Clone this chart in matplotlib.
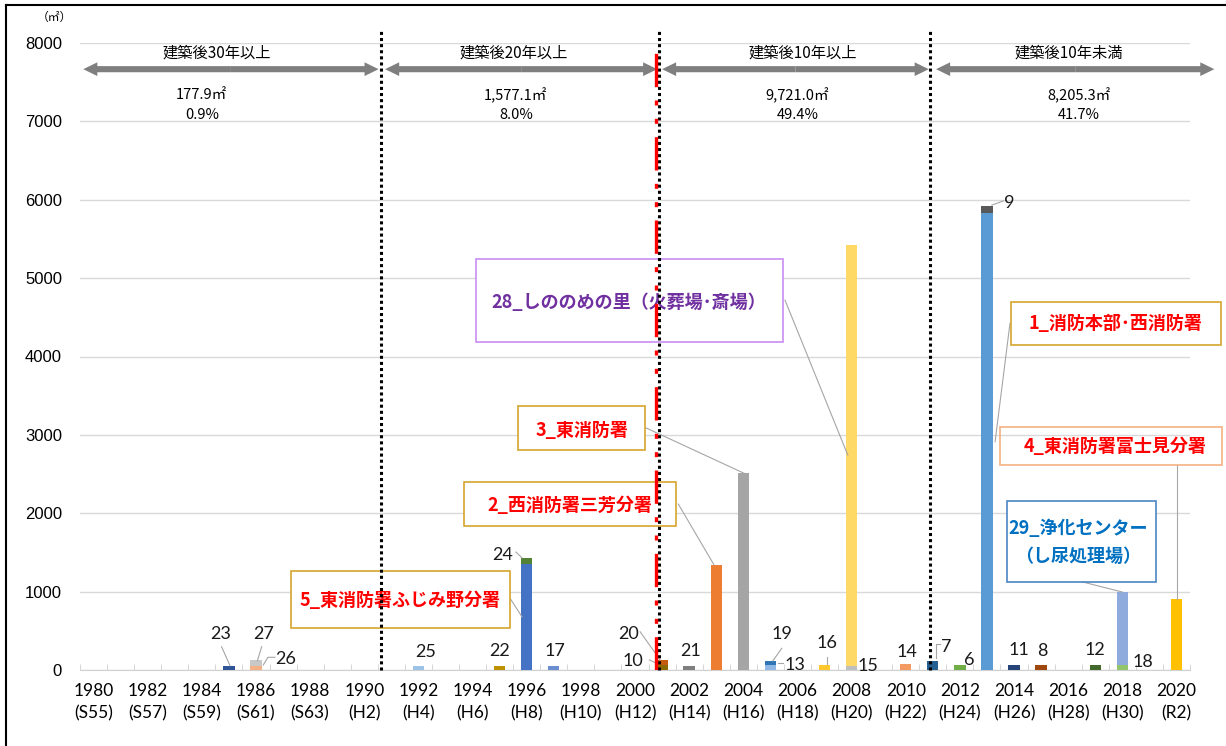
import matplotlib.pyplot as plt
from matplotlib.patches import Rectangle, FancyArrow
from matplotlib.lines import Line2D
import numpy as np

plt.rcParams['font.family'] = ['Noto Sans CJK JP', 'DejaVu Sans']

# facility number, construction year and floor area (m2); same-year rows are stacked bottom to top
facility_ids = [23, 26, 27, 25, 22, 5, 24, 17, 10, 20, 21, 2, 3, 13, 19, 16, 15, 28, 14,
                7, 6, 1, 9, 11, 8, 12, 18, 29, 4]
years = [1985, 1986, 1986, 1992, 1995, 1996, 1996, 1997, 2001, 2001, 2002, 2003, 2004, 2005, 2005,
         2007, 2008, 2008, 2010, 2011, 2012, 2013, 2013, 2014, 2015, 2017, 2018, 2018, 2020]
areas = [55, 55, 68, 50, 52, 1350, 75, 50, 65, 65, 55, 1340, 2510, 60, 55,
         65, 55, 5370, 80, 110, 70, 5825, 95, 70, 70, 70, 70, 925, 900]

tick_years = list(range(1980, 2021, 2))
tick_eras = ['S55', 'S57', 'S59', 'S61', 'S63', 'H2', 'H4', 'H6', 'H8', 'H10', 'H12',
             'H14', 'H16', 'H18', 'H20', 'H22', 'H24', 'H26', 'H28', 'H30', 'R2']

period_titles = ['建築後30年以上', '建築後20年以上', '建築後10年以上', '建築後10年未満']
period_areas = ['177.9㎡', '1,577.1㎡', '9,721.0㎡', '8,205.3㎡']
period_shares = ['0.9%', '8.0%', '49.4%', '41.7%']

bar_colors = {
    23: '#2F5597', 26: '#F4B183', 27: '#C9C9C9', 25: '#9DC3E6', 22: '#BF9000',
    5: '#4472C4', 24: '#548235', 17: '#6A8ED0', 10: '#8C6A00', 20: '#C55A11',
    21: '#7F7F7F', 2: '#ED7D31', 3: '#A5A5A5', 13: '#8FB8E6', 19: '#2E75B6',
    16: '#FFC82E', 15: '#BFBFBF', 28: '#FFD966', 14: '#F29A62', 7: '#255E91',
    6: '#70AD47', 1: '#5B9BD5', 9: '#595959', 11: '#264478', 8: '#9E480E',
    12: '#43682B', 18: '#92C46C', 29: '#8FAADC', 4: '#FFC000',
}

fig = plt.figure(figsize=(12.26, 7.46), dpi=100)
ax = fig.add_axes([80 / 1226, 76 / 746, 1110 / 1226, 627 / 746])

# stacked bars
bottoms = []
stack = {}
for y, a in zip(years, areas):
    bottoms.append(stack.get(y, 0))
    stack[y] = stack.get(y, 0) + a
ax.bar(years, areas, bottom=bottoms, width=0.42,
       color=[bar_colors[i] for i in facility_ids], zorder=3)

ax.set_xlim(1979.5, 2020.5)
ax.set_ylim(0, 8000)
ax.set_yticks(range(0, 8001, 1000))
ax.set_yticklabels([str(v) for v in range(0, 8001, 1000)], fontfamily='Liberation Sans', fontsize=12)
ax.set_xticks(tick_years)
ax.set_xticklabels([f'{y}\n({e})' for y, e in zip(tick_years, tick_eras)],
                   fontfamily='Lato', fontsize=12.5, linespacing=1.55)
ax.set_xticks(np.arange(1979.5, 2021, 1), minor=True)
ax.tick_params(axis='x', which='major', length=0, pad=9)
ax.tick_params(axis='x', which='minor', direction='in', length=4, color='#D0D0D0')
ax.tick_params(axis='y', length=0, pad=13)
ax.yaxis.grid(True, color='#D9D9D9', lw=1)
ax.set_axisbelow(True)
for s in ['top', 'left', 'right']:
    ax.spines[s].set_visible(False)
ax.spines['bottom'].set_color('#D0D0D0')

ax.text(1978.55, 8330, '（㎡）', fontsize=8.5, ha='center', va='center', clip_on=False)

# period separators
ax.vlines([1990.63, 2000.9, 2010.9], 0, 8170, colors='black', lw=2.2,
          linestyles=[(0, (1, 1))], zorder=6, clip_on=False)
ax.vlines(2000.78, 0, 8000, colors='red', lw=2.4,
          linestyles=[(0, (10, 4, 1.5, 4, 1.5, 4))], zorder=7)

# double-headed arrows for each period
arrow_spans = [(1979.62, 1990.53), (1990.77, 2000.82), (2001.0, 2010.85), (2011.12, 2021.4)]
arrow_y = 7666
for x0, x1 in arrow_spans:
    mid = (x0 + x1) / 2
    for start, end in [(mid, x1), (mid, x0)]:
        ax.add_patch(FancyArrow(start, arrow_y, end - start, 0, width=78, head_width=175,
                                head_length=0.52, length_includes_head=True,
                                color='#7F7F7F', lw=0, zorder=5, clip_on=False))

title_x = [1984.57, 1995.53, 2006.21, 2016.03]
sub_x = [1984.0, 1995.6, 2006.0, 2016.4]
for tx, sx, t, a, s in zip(title_x, sub_x, period_titles, period_areas, period_shares):
    ax.text(tx, 7870, t, fontsize=11, ha='center', va='center', zorder=5)
    ax.text(sx, 7334, a, fontsize=10.5, ha='center', va='center', zorder=5)
    ax.text(sx, 7085, s, fontsize=10.5, ha='center', va='center', zorder=5)

leader = dict(color='#A6A6A6', lw=0.8, zorder=4, clip_on=False)

# callout boxes: (x0, x1, y0, y1), text, text position, colours, leader
callouts = [
    ((1994.13, 2005.48, 4180, 5242), '28_しののめの里（火葬場･斎場）', (1999.75, 4690), '#7030A0', '#C88CF2', 'white',
     [(2005.54, 4719), (2007.86, 2742)]),
    ((2013.89, 2021.65, 4145, 4698), '1_消防本部･西消防署', (2017.73, 4426), '#FF0000', '#D6A62C', 'white',
     [(2013.85, 4422), (2013.30, 2912)]),
    ((2013.48, 2021.70, 2611, 3096), '4_東消防署富士見分署', (2017.73, 2857), '#FF0000', '#F4B183', 'none',
     [(2020.03, 2611), (2020.03, 900)]),
    ((1995.69, 2000.36, 2806, 3363), '3_東消防署', (1998.03, 3061), '#FF0000', '#D6A62C', 'white',
     [(2000.40, 3090), (2004.06, 2505)]),
    ((1993.69, 2001.53, 1833, 2394), '2_西消防署三芳分署', (1997.60, 2105), '#FF0000', '#D6A62C', 'white',
     [(2001.60, 2117), (2002.92, 1340)]),
    ((1987.29, 1995.38, 536, 1263), '5_東消防署ふじみ野分署', (1991.32, 893), '#FF0000', '#D6A62C', 'white',
     [(1995.38, 918), (1995.83, 676)]),
    ((2013.75, 2019.24, 1126, 2156), '29_浄化センター\n（し尿処理場）', (2016.35, 1630), '#0070C0', '#4A86C5', 'white',
     [(2016.50, 1126), (2018.0, 995)]),
]
for (x0, x1, y0, y1), label, (tx, ty), tcol, ecol, fcol, pts in callouts:
    ax.add_patch(Rectangle((x0, y0), x1 - x0, y1 - y0, facecolor=fcol, edgecolor=ecol,
                           lw=1.2, zorder=5, clip_on=False))
    ax.text(tx, ty, label, color=tcol, fontsize=13, fontweight='bold', ha='center', va='center',
            linespacing=1.6, zorder=5.5)
    ax.plot([p[0] for p in pts], [p[1] for p in pts], **leader)

# small facility labels
labels = [
    ('23', 1984.69, 455, [(1984.73, 297), (1985.04, 55)]),
    ('27', 1986.30, 455, [(1986.21, 297), (1986.05, 115)]),
    ('26', 1987.11, 136, [(1986.70, 162), (1986.44, 162), (1986.27, 64)]),
    ('25', 1992.27, 234, None),
    ('22', 1995.01, 242, None),
    ('24', 1995.12, 1467, [(1995.60, 1505), (1995.83, 1430)]),
    ('17', 1997.04, 242, None),
    ('20', 1999.75, 455, [(2000.19, 488), (2000.93, 128)]),
    ('10', 1999.94, 115, [(2000.53, 128), (2000.80, 85)]),
    ('21', 2002.06, 246, None),
    ('19', 2005.42, 455, [(2005.42, 277), (2005.09, 115)]),
    ('13', 2005.91, 64, [(2005.27, 85), (2005.48, 85)]),
    ('16', 2007.08, 340, [(2007.08, 162), (2007.08, 73)]),
    ('15', 2008.62, 55, None),
    ('14', 2010.06, 234, None),
    ('7', 2011.49, 293, [(2011.28, 330), (2011.12, 330), (2011.12, 150)]),
    ('6', 2012.34, 128, None),
    ('9', 2013.82, 5960, [(2013.61, 5986), (2013.18, 5931)]),
    ('11', 2014.19, 255, None),
    ('8', 2015.04, 242, None),
    ('12', 2017.00, 255, None),
    ('18', 2018.77, 102, None),
]
for txt, lx, ly, pts in labels:
    ax.text(lx, ly, txt, fontsize=13, fontfamily='Lato', color='#1A1A1A',
            ha='center', va='center', zorder=5, clip_on=False)
    if pts:
        ax.plot([p[0] for p in pts], [p[1] for p in pts], **leader)

# outer frame (top and left edges)
fig.add_artist(Line2D([0.0045, 1], [0.9935, 0.9935], transform=fig.transFigure, color='black', lw=1.5))
fig.add_artist(Line2D([0.0045, 0.0045], [0, 0.9935], transform=fig.transFigure, color='black', lw=1.5))

fig.savefig('out.png', dpi=100)
